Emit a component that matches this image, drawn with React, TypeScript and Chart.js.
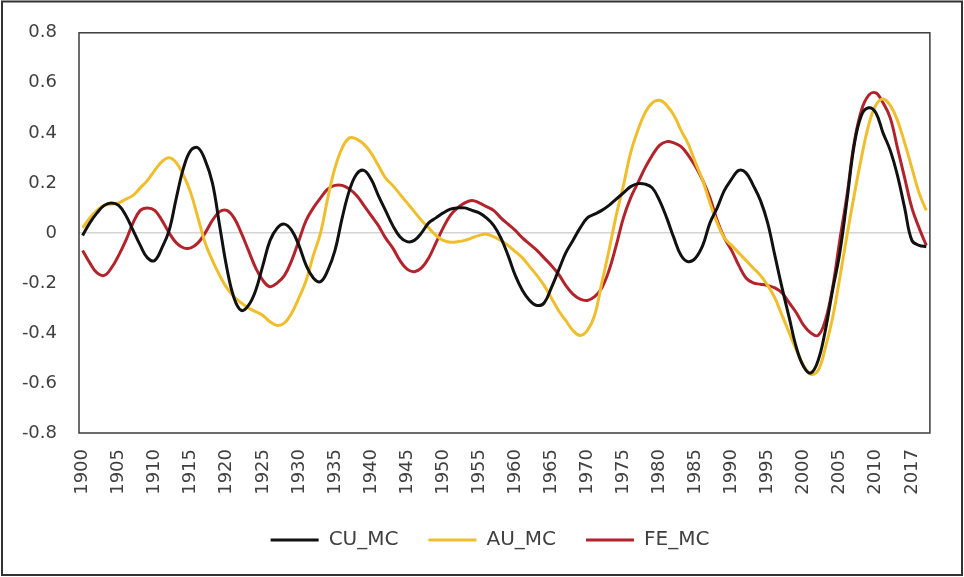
import { useEffect, useRef } from "react";
import { Chart, registerables } from "chart.js";

Chart.register(...registerables);

// Category labels (annual), every fifth one is printed on the axis
const years = [
  1900, 1901, 1902, 1903, 1904, 1905, 1906, 1907, 1908, 1909,
  1910, 1911, 1912, 1913, 1914, 1915, 1916, 1917, 1918, 1919,
  1920, 1921, 1922, 1923, 1924, 1925, 1926, 1927, 1928, 1929,
  1930, 1931, 1932, 1933, 1934, 1935, 1936, 1937, 1938, 1939,
  1940, 1941, 1942, 1943, 1944, 1945, 1946, 1947, 1948, 1949,
  1950, 1951, 1952, 1953, 1954, 1955, 1956, 1957, 1958, 1959,
  1960, 1961, 1962, 1963, 1964, 1965, 1966, 1967, 1968, 1969,
  1970, 1971, 1972, 1973, 1974, 1975, 1976, 1977, 1978, 1979,
  1980, 1981, 1982, 1983, 1984, 1985, 1986, 1987, 1988, 1989,
  1990, 1991, 1992, 1993, 1994, 1995, 1996, 1997, 1998, 1999,
  2000, 2001, 2002, 2003, 2004, 2005, 2006, 2007, 2008, 2009,
  2010, 2013, 2014, 2015, 2016, 2017, 2018, 2019,
];

const cuMC = [
  -0.01, 0.04, 0.08, 0.11, 0.12, 0.11, 0.07, 0.01, -0.05, -0.1,
  -0.11, -0.06, 0.01, 0.14, 0.26, 0.33, 0.34, 0.29, 0.2, 0.03,
  -0.14, -0.26, -0.31, -0.29, -0.23, -0.13, -0.03, 0.02, 0.035, 0.01,
  -0.05, -0.13, -0.18, -0.195, -0.15, -0.07, 0.06, 0.17, 0.235, 0.25,
  0.215, 0.15, 0.09, 0.03, -0.015, -0.035, -0.03, 0.0, 0.04, 0.06,
  0.08, 0.095, 0.1, 0.1, 0.09, 0.08, 0.06, 0.03, -0.02, -0.09,
  -0.17, -0.23, -0.27, -0.29, -0.28, -0.22, -0.15, -0.08, -0.03, 0.02,
  0.06, 0.075, 0.09, 0.11, 0.135, 0.16, 0.185, 0.197, 0.195, 0.18,
  0.13, 0.06, -0.02, -0.09, -0.115, -0.1, -0.05, 0.04, 0.1, 0.17,
  0.215, 0.25, 0.24, 0.19, 0.13, 0.04, -0.09, -0.22, -0.34, -0.46,
  -0.535, -0.56, -0.51, -0.39, -0.23, -0.08, 0.13, 0.35, 0.47, 0.5,
  0.48, 0.4, 0.33, 0.23, 0.1, -0.03, -0.05, -0.055,
];

const auMC = [
  0.02, 0.06, 0.09, 0.11, 0.115, 0.12, 0.135, 0.15, 0.18, 0.21,
  0.25, 0.285, 0.3, 0.28, 0.23, 0.16, 0.06, -0.04, -0.11, -0.17,
  -0.22, -0.255, -0.28, -0.3, -0.315, -0.33, -0.355, -0.37, -0.36, -0.32,
  -0.26, -0.19, -0.09, 0.0, 0.14, 0.26, 0.34, 0.38, 0.375, 0.355,
  0.32, 0.27, 0.22, 0.19, 0.155, 0.12, 0.085, 0.05, 0.02, -0.01,
  -0.03, -0.037, -0.035, -0.03, -0.02, -0.01, -0.005, -0.015, -0.03, -0.05,
  -0.075, -0.1, -0.135, -0.17, -0.21, -0.26, -0.31, -0.35, -0.39, -0.41,
  -0.39, -0.33, -0.2, -0.07, 0.07, 0.19, 0.32, 0.41, 0.48, 0.52,
  0.53, 0.51, 0.47, 0.41, 0.355, 0.28, 0.21, 0.12, 0.04, -0.02,
  -0.05, -0.08, -0.11, -0.14, -0.17, -0.21, -0.26, -0.33, -0.4, -0.47,
  -0.53, -0.565, -0.55, -0.46, -0.34, -0.18, -0.01, 0.15, 0.3, 0.43,
  0.51, 0.535, 0.51, 0.45, 0.36, 0.26, 0.16, 0.09,
];

const feMC = [
  -0.07, -0.12, -0.16, -0.17, -0.14, -0.09, -0.03, 0.04, 0.09, 0.1,
  0.09, 0.05, 0.0, -0.04, -0.06, -0.06, -0.04, 0.0, 0.05, 0.085,
  0.09, 0.06, 0.0, -0.07, -0.14, -0.19, -0.215, -0.2, -0.17, -0.11,
  -0.03, 0.05, 0.1, 0.14, 0.175, 0.19, 0.19, 0.175, 0.15, 0.11,
  0.07, 0.03, -0.02, -0.06, -0.11, -0.145, -0.155, -0.14, -0.1, -0.04,
  0.02, 0.07, 0.1, 0.12, 0.13, 0.12, 0.105, 0.09, 0.06, 0.035,
  0.01, -0.02, -0.045, -0.07, -0.1, -0.13, -0.165, -0.21, -0.245, -0.265,
  -0.27, -0.255, -0.22, -0.15, -0.05, 0.06, 0.14, 0.2, 0.26, 0.31,
  0.35, 0.365, 0.36, 0.345, 0.31, 0.265, 0.21, 0.14, 0.05, -0.02,
  -0.07, -0.13, -0.18, -0.2, -0.205, -0.21, -0.22, -0.24, -0.28, -0.32,
  -0.37, -0.4, -0.41, -0.35, -0.22, -0.03, 0.15, 0.36, 0.49, 0.55,
  0.56, 0.52, 0.46, 0.34, 0.22, 0.1, 0.02, -0.05,
];

const seriesNames = ["CU_MC", "AU_MC", "FE_MC"];
const seriesColors = ["#111111", "#f0be2c", "#b3232b"];

const yMin = -0.8;
const yMax = 0.8;
const yStep = 0.2;
const labelEvery = 5;

const FONT = "'DejaVu Sans', sans-serif";
const TEXT = "#404040";

// Outer frame around the figure and box around the plot area;
// the legend row is centred under a slightly right-shifted span.
const framePlugin = {
  id: "frame",
  afterLayout(chart: any) {
    const lg = chart.legend;
    if (lg) {
      lg.left = 43;
      lg.right = 937;
    }
  },
  beforeDatasetsDraw(chart: any) {
    const { ctx, chartArea: a } = chart;
    ctx.save();
    ctx.strokeStyle = "#3c3c3c";
    ctx.lineWidth = 1.5;
    ctx.strokeRect(a.left, a.top, a.right - a.left, a.bottom - a.top);
    ctx.restore();
  },
  afterDraw(chart: any) {
    const { ctx } = chart;
    ctx.save();
    ctx.strokeStyle = "#333333";
    ctx.lineWidth = 2;
    ctx.strokeRect(2, 1.5, 960, 573.5);
    ctx.restore();
  },
};

export default function App() {
  const canvasRef = useRef<HTMLCanvasElement | null>(null);

  useEffect(() => {
    if (!canvasRef.current) return;
    const data = [cuMC, auMC, feMC];
    const chart = new Chart(canvasRef.current, {
      type: "line",
      data: {
        labels: years.map(String),
        datasets: data.map((values, k) => ({
          label: seriesNames[k],
          data: values,
          borderColor: seriesColors[k],
          backgroundColor: seriesColors[k],
          borderWidth: 3,
          pointRadius: 0,
          tension: 0.4,
          fill: false,
        })),
      },
      options: {
        responsive: false,
        animation: false,
        events: [],
        layout: { padding: { left: 0, right: 27, top: 31, bottom: 17 } },
        plugins: {
          tooltip: { enabled: false },
          legend: {
            position: "bottom",
            labels: {
              usePointStyle: true,
              pointStyle: "line",
              pointStyleWidth: 48,
              padding: 30,
              color: TEXT,
              font: { family: FONT, size: 20 },
            },
          },
        },
        scales: {
          x: {
            type: "category",
            offset: true,
            grid: { display: false, drawTicks: false },
            border: { display: false },
            afterFit: (scale: any) => {
              scale.height = 67;
            },
            ticks: {
              autoSkip: false,
              minRotation: 90,
              maxRotation: 90,
              padding: 16,
              color: TEXT,
              font: { family: FONT, size: 18 },
              callback: (_v: any, i: number) => (i % labelEvery === 0 ? String(years[i]) : ""),
            },
          },
          y: {
            min: yMin,
            max: yMax,
            afterFit: (scale: any) => {
              scale.width = 79;
            },
            grid: {
              drawTicks: false,
              color: (c: any) => (c.tick && Math.abs(c.tick.value) < 1e-9 ? "#d4d4d4" : "rgba(0,0,0,0)"),
              lineWidth: 1.5,
            },
            border: { display: false },
            ticks: {
              stepSize: yStep,
              padding: 22,
              color: TEXT,
              font: { family: FONT, size: 18 },
              callback: (v: any) => String(Math.round(Number(v) * 10) / 10),
            },
          },
        },
      },
      plugins: [framePlugin],
    });
    return () => chart.destroy();
  }, []);

  return (
    <div style={{ position: "fixed", left: 0, top: 0, width: 964, height: 577, background: "#ffffff" }}>
      <canvas ref={canvasRef} width={964} height={577} />
    </div>
  );
}
